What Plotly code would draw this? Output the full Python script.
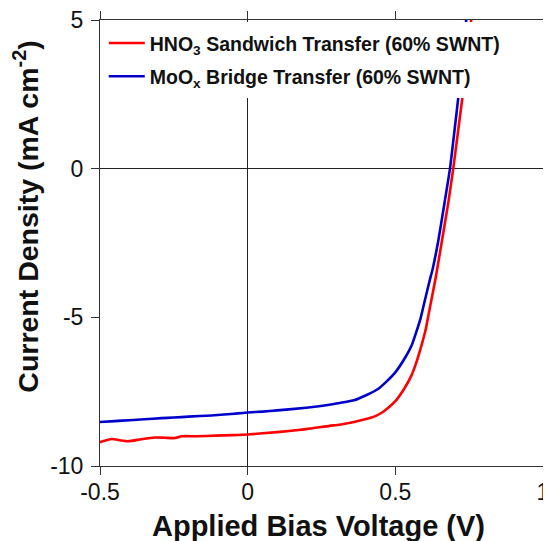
import plotly.graph_objects as go

# ---- data ----
hno3_v = [-0.5, -0.46, -0.43, -0.404, -0.36, -0.314, -0.28, -0.247, -0.224, -0.17, -0.111, -0.05, 0.0,
          0.1, 0.198, 0.277, 0.311, 0.36, 0.401, 0.43, 0.455, 0.475, 0.50, 0.53, 0.554, 0.57, 0.588, 0.603,
          0.616, 0.637, 0.66, 0.68, 0.696, 0.713, 0.730, 0.745, 0.757, 0.765]
hno3_j = [-9.20, -9.09, -9.14, -9.17, -9.10, -9.04, -9.05, -9.06, -9.00, -9.00, -8.98, -8.96, -8.94,
          -8.86, -8.76, -8.65, -8.61, -8.52, -8.42, -8.33, -8.20, -8.05, -7.82, -7.40, -6.97, -6.55, -5.96, -5.40,
          -4.73, -3.65, -2.30, -1.10, 0.0, 1.3, 2.63, 4.0, 5.0, 5.6]

moox_v = [-0.5, -0.45, -0.40, -0.35, -0.292, -0.25, -0.2, -0.123, -0.08, -0.032, 0.0, 0.05, 0.1,
          0.198, 0.277, 0.311, 0.36, 0.401, 0.44, 0.469, 0.50, 0.536, 0.555, 0.570, 0.585, 0.598,
          0.617, 0.626, 0.645, 0.665, 0.685, 0.70, 0.716, 0.728, 0.740, 0.748]
moox_j = [-8.52, -8.49, -8.46, -8.43, -8.39, -8.37, -8.34, -8.30, -8.27, -8.23, -8.20, -8.17, -8.13,
          -8.04, -7.94, -7.88, -7.79, -7.62, -7.42, -7.17, -6.85, -6.31, -5.95, -5.52, -5.05, -4.51,
          -3.73, -3.39, -2.45, -1.25, 0.0, 1.25, 2.64, 3.8, 5.0, 5.6]

series_names = ["HNO<sub>3</sub> Sandwich Transfer (60% SWNT)",
                "MoO<sub>x</sub> Bridge Transfer (60% SWNT)"]
x_ticks = [-0.5, 0, 0.5, 1]
x_tick_labels = ["-0.5", "0", "0.5", "1"]
y_ticks = [-10, -5, 0, 5]
y_tick_labels = ["-10", "-5", "0", "5"]

FONT = "Liberation Sans, Arial, Helvetica, sans-serif"

fig = go.Figure()
fig.add_trace(go.Scatter(x=hno3_v, y=hno3_j, mode="lines", name=series_names[0],
                         legendgroup="a",
                         line=dict(color="#ff0000", width=2.6, shape="spline", smoothing=0.5)))
fig.add_trace(go.Scatter(x=moox_v, y=moox_j, mode="lines", name=series_names[1],
                         legendgroup="b",
                         line=dict(color="#0000cc", width=2.6, shape="spline", smoothing=0.5)))

axis_common = dict(showline=True, linecolor="#333333", linewidth=1, mirror="ticks",
                   ticks="outside", ticklen=8, tickwidth=1, tickcolor="#333333",
                   showgrid=False, zeroline=True, zerolinecolor="#222222", zerolinewidth=1,
                   automargin=False, ticklabeloverflow="allow",
                   tickfont=dict(family=FONT, size=23, color="#111111"))

fig.update_xaxes(range=[-0.5, 1.0], tickvals=x_ticks, ticktext=x_tick_labels,
                 ticklabelstandoff=-3, **axis_common)
fig.update_yaxes(range=[-10, 5], tickvals=y_ticks, ticktext=y_tick_labels,
                 ticklabelstandoff=3, **axis_common)

# the page body adds an 8px offset, so the figure is sized/margined to compensate
fig.update_layout(
    width=543, height=533,
    margin=dict(l=92, r=8, t=12, b=75, autoexpand=False),
    paper_bgcolor="white", plot_bgcolor="white",
    showlegend=True,
    legend=dict(x=0.004, y=0.996, xanchor="left", yanchor="top",
                bgcolor="white", bordercolor="white", borderwidth=2,
                tracegroupgap=5, traceorder="grouped", itemwidth=36,
                font=dict(family=FONT, size=19.5, color="#111111", weight="bold")),
    annotations=[
        dict(text="Applied Bias Voltage (V)", xref="paper", yref="paper",
             x=0.494, y=-0.135, xanchor="center", yanchor="middle", showarrow=False,
             font=dict(family=FONT, size=29, color="#111111", weight="bold")),
        dict(text="Current Density (mA cm<sup>-2</sup>)", xref="paper", yref="paper",
             x=-0.169, y=0.5593, xanchor="center", yanchor="middle", textangle=-90,
             showarrow=False,
             font=dict(family=FONT, size=28.5, color="#111111", weight="bold")),
    ],
)

fig.write_html("out.html")
